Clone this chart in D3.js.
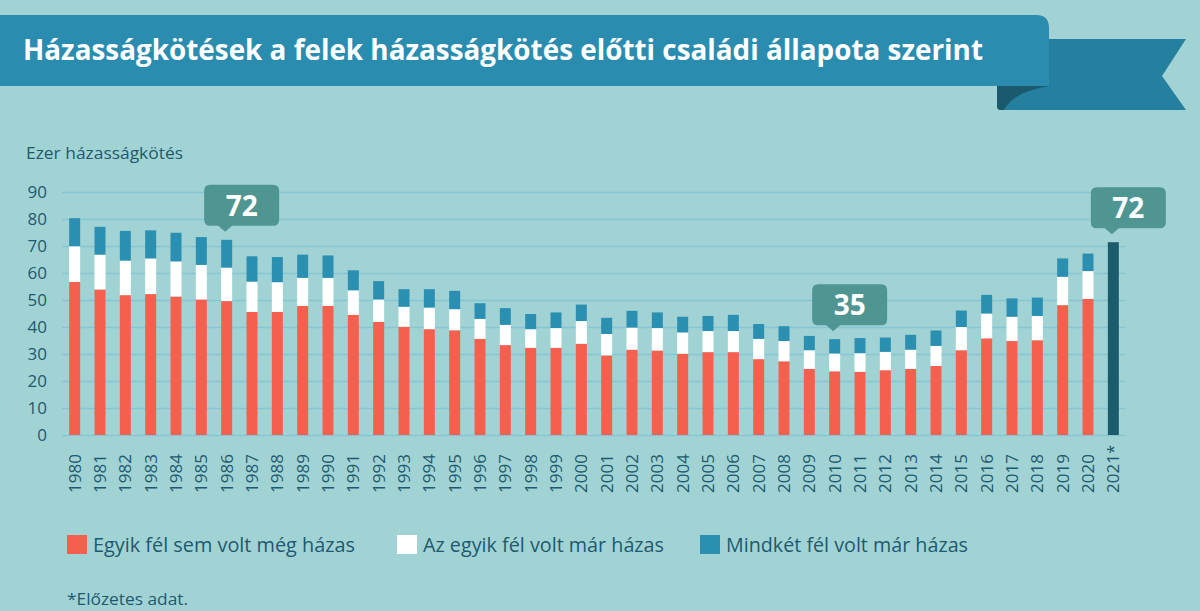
<!DOCTYPE html>
<html lang="hu">
<head>
<meta charset="utf-8">
<script src="https://cdn.jsdelivr.net/npm/d3@7"></script>
<style>
    html, body { margin: 0; padding: 0; background: #a2d3d4; }
    svg { display: block; font-family: 'Open Sans', sans-serif; }
</style>
</head>
<body>
<div id="chart"></div>
<script>
const years = ['1980', '1981', '1982', '1983', '1984', '1985', '1986', '1987', '1988', '1989',
    '1990', '1991', '1992', '1993', '1994', '1995', '1996', '1997', '1998', '1999',
    '2000', '2001', '2002', '2003', '2004', '2005', '2006', '2007', '2008', '2009',
    '2010', '2011', '2012', '2013', '2014', '2015', '2016', '2017', '2018', '2019',
    '2020', '2021'];

// Thousand marriages, by marital status of the spouses (2021 only as total)
const neverMarried = [56.7, 53.9, 51.8, 52.2, 51.3, 50.2, 49.6, 45.6, 45.6, 47.8,
    47.8, 44.5, 41.9, 40.1, 39.2, 38.8, 35.6, 33.3, 32.3, 32.3,
    33.8, 29.5, 31.6, 31.3, 30.1, 30.7, 30.7, 28.1, 27.3, 24.5,
    23.6, 23.4, 24.0, 24.5, 25.6, 31.4, 35.8, 34.8, 35.1, 48.1,
    50.4, 0];
const oneMarried = [13.2, 12.9, 12.8, 13.2, 13.0, 12.8, 12.4, 11.2, 11.0, 10.4,
    10.4, 9.1, 8.3, 7.4, 8.0, 7.8, 7.4, 7.5, 6.9, 7.3,
    8.4, 7.9, 8.2, 8.3, 7.9, 7.8, 7.8, 7.5, 7.5, 6.9,
    6.6, 6.9, 6.8, 7.1, 7.4, 8.6, 9.2, 9.0, 9.0, 10.5,
    10.3, 0];
const bothMarried = [10.4, 10.3, 11.0, 10.4, 10.6, 10.3, 10.3, 9.4, 9.3, 8.6,
    8.3, 7.4, 6.8, 6.5, 6.8, 6.8, 5.8, 6.2, 5.6, 5.8,
    6.1, 6.0, 6.2, 5.8, 5.8, 5.6, 6.0, 5.5, 5.5, 5.3,
    5.3, 5.6, 5.3, 5.5, 5.7, 6.1, 6.9, 6.8, 6.8, 6.8,
    6.5, 0];
const preliminaryYear = '2021';
const preliminaryTotal = 71.4;

const yTicks = [0, 10, 20, 30, 40, 50, 60, 70, 80, 90];
const callouts = [
    { year: '1986', text: '72' },
    { year: '2010', text: '35' },
    { year: '2021', text: '72' }
];

const seriesKeys = ['neverMarried', 'oneMarried', 'bothMarried'];
const seriesNames = ['Egyik fél sem volt még házas', 'Az egyik fél volt már házas', 'Mindkét fél volt már házas'];
const seriesColors = ['#f4604d', '#ffffff', '#2a8fb1'];

const titleText = 'Házasságkötések a felek házasságkötés előtti családi állapota szerint';
const textColor = '#1d5a6f';

const width = 1200;
const height = 611;

// Build rows for the stack
const rows = years.map((year, i) => ({
    year: year,
    neverMarried: neverMarried[i],
    oneMarried: oneMarried[i],
    bothMarried: bothMarried[i]
}));

const totalOf = (year) => {
    const i = years.indexOf(year);
    if (year === preliminaryYear) {
        return preliminaryTotal;
    }
    return neverMarried[i] + oneMarried[i] + bothMarried[i];
};

// Fit a text element to a given width
const fitText = (sel, w) => {
    sel.attr('textLength', w).attr('lengthAdjust', 'spacingAndGlyphs');
};

const svg = d3.select('#chart')
    .append('svg')
    .attr('width', width)
    .attr('height', height);

svg.append('rect')
    .attr('width', width)
    .attr('height', height)
    .attr('fill', '#a2d3d4');

// Title ribbon
const ribbon = svg.append('g').attr('class', 'ribbon');

ribbon.append('path')
    .attr('d', 'M997,39 L1186,39 L1162,76 L1186,110 L1001,110 Q997,110 997,106 Z')
    .attr('fill', '#257f9f');

ribbon.append('path')
    .attr('d', 'M997,86 L1049,86 Q1013,92 1004,110 L1001,110 Q997,110 997,106 Z')
    .attr('fill', '#1b5a6c');

ribbon.append('path')
    .attr('d', 'M0,15 L1036,15 Q1049,15 1049,28 L1049,86 L0,86 Z')
    .attr('fill', '#2a8db0');

const title = ribbon.append('text')
    .attr('x', 23)
    .attr('y', 60)
    .attr('fill', '#ffffff')
    .attr('font-size', 29)
    .attr('font-weight', 700)
    .text(titleText);
fitText(title, 960);

// Scales
const x = d3.scaleBand()
    .domain(years)
    .range([62, 1126])
    .paddingInner(0.566)
    .paddingOuter(0.283);

const y = d3.scaleLinear()
    .domain([0, 90])
    .range([435, 192]);

// Axis title
const axisTitle = svg.append('text')
    .attr('x', 26)
    .attr('y', 159)
    .attr('fill', textColor)
    .attr('font-size', 17)
    .text('Ezer házasságkötés');
fitText(axisTitle, 157);

// Gridlines and Y axis
const yAxis = svg.append('g')
    .attr('class', 'y-axis')
    .attr('transform', 'translate(62,0)')
    .call(d3.axisLeft(y).tickValues(yTicks).tickSize(-1063).tickPadding(15));

yAxis.select('.domain').remove();
yAxis.selectAll('line')
    .attr('stroke', '#85c6d4')
    .attr('stroke-width', 1.6);
yAxis.selectAll('text')
    .attr('fill', textColor)
    .attr('font-size', 17)
    .attr('font-family', 'Open Sans, sans-serif');

// Stacked bars
const stacked = d3.stack().keys(seriesKeys)(rows);

svg.append('g')
    .attr('class', 'bars')
    .selectAll('g')
    .data(stacked)
    .join('g')
    .attr('fill', (d, i) => seriesColors[i])
    .selectAll('rect')
    .data(d => d.filter(p => p.data.year !== preliminaryYear))
    .join('rect')
    .attr('x', d => x(d.data.year))
    .attr('y', d => y(d[1]))
    .attr('width', x.bandwidth())
    .attr('height', d => y(d[0]) - y(d[1]));

// Preliminary total bar
svg.append('rect')
    .attr('x', x(preliminaryYear))
    .attr('y', y(preliminaryTotal))
    .attr('width', x.bandwidth())
    .attr('height', y(0) - y(preliminaryTotal))
    .attr('fill', '#1a5b6e');

// X axis labels
const xAxis = svg.append('g')
    .attr('class', 'x-axis')
    .attr('transform', 'translate(0,454)')
    .call(d3.axisBottom(x).tickSize(0).tickPadding(0));

xAxis.select('.domain').remove();
xAxis.selectAll('text')
    .attr('fill', textColor)
    .attr('font-size', 17)
    .attr('font-family', 'Open Sans, sans-serif')
    .attr('text-anchor', 'end')
    .attr('transform', 'rotate(-90)')
    .attr('x', 0)
    .attr('y', 0)
    .attr('dy', '0.36em');

xAxis.selectAll('.tick')
    .filter(d => d === preliminaryYear)
    .append('text')
    .attr('fill', textColor)
    .attr('font-size', 17)
    .attr('font-family', 'Open Sans, sans-serif')
    .attr('text-anchor', 'start')
    .attr('transform', 'rotate(-90)')
    .attr('dy', '0.36em')
    .text('*');

// Value callouts
const boxW = 75;
const boxH = 41;
const callout = svg.append('g')
    .attr('class', 'callouts')
    .selectAll('g')
    .data(callouts)
    .join('g')
    .attr('transform', d => {
        const tipX = x(d.year) + x.bandwidth() / 2 - 1.5;
        const tipY = y(totalOf(d.year)) - 8;
        return `translate(${tipX},${tipY})`;
    });

callout.append('path')
    .attr('d', () => {
        const left = -21;
        const right = left + boxW;
        const bottom = -6;
        const top = bottom - boxH;
        const r = 6;
        return `M${left + r},${top} L${right - r},${top} Q${right},${top} ${right},${top + r}` +
            ` L${right},${bottom - r} Q${right},${bottom} ${right - r},${bottom}` +
            ` L7,${bottom} L0,0 L-7,${bottom}` +
            ` L${left + r},${bottom} Q${left},${bottom} ${left},${bottom - r}` +
            ` L${left},${top + r} Q${left},${top} ${left + r},${top} Z`;
    })
    .attr('fill', '#4f9592');

callout.append('text')
    .attr('x', -21 + boxW / 2)
    .attr('y', -16)
    .attr('text-anchor', 'middle')
    .attr('fill', '#ffffff')
    .attr('font-size', 28)
    .attr('font-weight', 700)
    .text(d => d.text);

// Legend
const legendItems = [
    { x: 67, textW: 262 },
    { x: 397, textW: 241 },
    { x: 700, textW: 242 }
];

const legend = svg.append('g')
    .attr('class', 'legend')
    .selectAll('g')
    .data(seriesNames)
    .join('g')
    .attr('transform', (d, i) => `translate(${legendItems[i].x},535)`);

legend.append('rect')
    .attr('width', 20)
    .attr('height', 19)
    .attr('fill', (d, i) => seriesColors[i]);

legend.append('text')
    .attr('x', 26)
    .attr('y', 17)
    .attr('fill', textColor)
    .attr('font-size', 20)
    .text(d => d)
    .each(function (d, i) {
        fitText(d3.select(this), legendItems[i].textW);
    });

// Footnote
const note = svg.append('text')
    .attr('x', 67)
    .attr('y', 605)
    .attr('fill', textColor)
    .attr('font-size', 17)
    .text('*Előzetes adat.');
fitText(note, 121);
</script>
</body>
</html>
